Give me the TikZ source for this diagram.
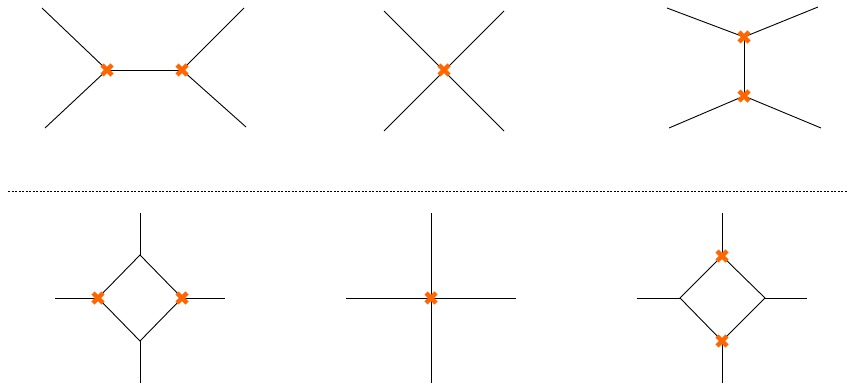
\documentclass[tikz,border=0pt]{standalone}
\usetikzlibrary{shapes.misc}
\definecolor{xorange}{HTML}{FF6600}
\tikzset{
  ln/.style={draw=black, line width=0.9pt},
  xmark/.style={cross out, draw=xorange, line width=4.5pt, minimum size=10pt, inner sep=0pt, outer sep=0pt},
}
\begin{document}
\begin{tikzpicture}[x=1pt,y=-1pt]
\useasboundingbox (0,0) rectangle (851,385);
% top left
\coordinate (a1) at (107,70); \coordinate (a2) at (182,70);
\coordinate (a3) at (42,8); \coordinate (a4) at (45,128);
\coordinate (a5) at (244,8); \coordinate (a6) at (246,127);
\draw[ln] (a3)--(a1)--(a4); \draw[ln] (a1)--(a2);
\draw[ln] (a5)--(a2)--(a6);
\node[xmark] (xa1) at (a1) {}; \node[xmark] (xa2) at (a2) {};
% top middle
\coordinate (b0) at (444,70);
\coordinate (b1) at (384,11); \coordinate (b2) at (504,11);
\coordinate (b3) at (384,131); \coordinate (b4) at (504,131);
\draw[ln] (b1)--(b4); \draw[ln] (b2)--(b3);
\node[xmark] (xb0) at (b0) {};
% top right
\coordinate (c1) at (744,37); \coordinate (c2) at (744,96);
\coordinate (c3) at (667,8); \coordinate (c4) at (818,7);
\coordinate (c5) at (669,128); \coordinate (c6) at (821,128);
\draw[ln] (c3)--(c1)--(c4); \draw[ln] (c1)--(c2);
\draw[ln] (c5)--(c2)--(c6);
\node[xmark] (xc1) at (c1) {}; \node[xmark] (xc2) at (c2) {};
% separator
\coordinate (s1) at (8,191); \coordinate (s2) at (848,191);
\draw[black, line width=0.6pt, dash pattern=on 2pt off 1.5pt] (s1)--(s2);
% bottom left
\coordinate (d1) at (140,255); \coordinate (d2) at (182,298);
\coordinate (d3) at (140,341); \coordinate (d4) at (98,298);
\coordinate (d5) at (140,213); \coordinate (d6) at (225,298);
\coordinate (d7) at (140,383); \coordinate (d8) at (55,298);
\draw[ln] (d1)--(d2)--(d3)--(d4)--cycle;
\draw[ln] (d1)--(d5); \draw[ln] (d2)--(d6); \draw[ln] (d3)--(d7); \draw[ln] (d4)--(d8);
\node[xmark] (xd4) at (d4) {}; \node[xmark] (xd2) at (d2) {};
% bottom middle
\coordinate (e0) at (431,298);
\coordinate (e1) at (431,213); \coordinate (e2) at (431,383);
\coordinate (e3) at (346,298); \coordinate (e4) at (516,298);
\draw[ln] (e1)--(e2); \draw[ln] (e3)--(e4);
\node[xmark] (xe0) at (e0) {};
% bottom right
\coordinate (f1) at (722,256); \coordinate (f2) at (765,298);
\coordinate (f3) at (722,341); \coordinate (f4) at (680,298);
\coordinate (f5) at (722,213); \coordinate (f6) at (807,298);
\coordinate (f7) at (722,383); \coordinate (f8) at (637,298);
\draw[ln] (f1)--(f2)--(f3)--(f4)--cycle;
\draw[ln] (f1)--(f5); \draw[ln] (f2)--(f6); \draw[ln] (f3)--(f7); \draw[ln] (f4)--(f8);
\node[xmark] (xf1) at (f1) {}; \node[xmark] (xf3) at (f3) {};
\end{tikzpicture}
\end{document}
